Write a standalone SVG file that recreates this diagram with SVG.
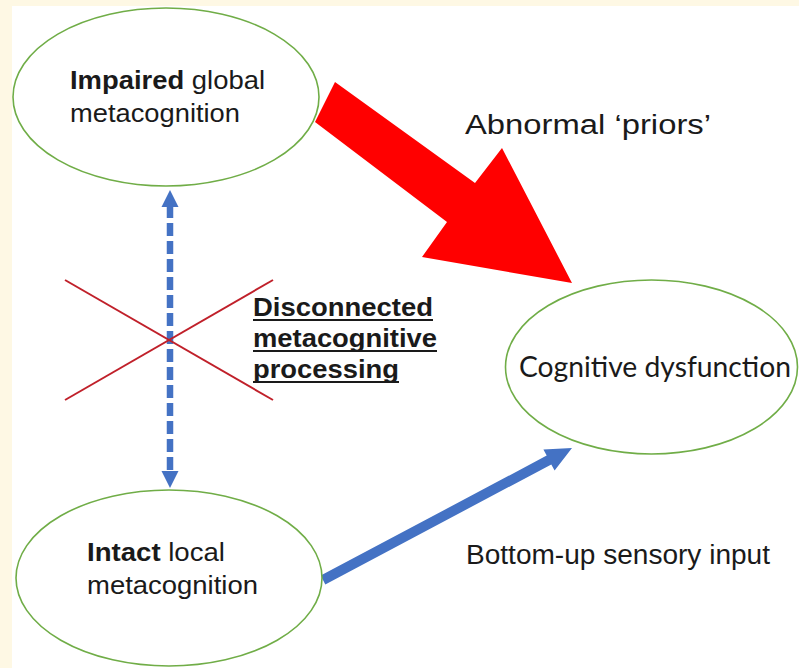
<svg xmlns="http://www.w3.org/2000/svg" width="799" height="668" viewBox="0 0 799 668">
<style>
.node{fill:#ffffff;stroke:#70ad47;stroke-width:1.6}
.t{font-family:"Liberation Sans",Arial,sans-serif;font-size:26px;fill:#1a1a1a}
.l{font-family:"Liberation Sans",Arial,sans-serif;font-size:27px;fill:#1a1a1a}
.b{font-weight:bold}
.c{font-family:Lato,"Noto Sans",sans-serif;font-size:29px;fill:#1a1a1a}
.u{font-family:"Liberation Sans",Arial,sans-serif;font-size:26px;font-weight:bold;fill:#1a1a1a}
.ul{stroke:#1a1a1a;stroke-width:2}
.x{stroke:#c0202a;stroke-width:2;fill:none}
</style>
<rect x="0" y="0" width="799" height="668" fill="#fef8e4"/>
<rect x="12" y="6" width="787" height="662" fill="#ffffff"/>
<g id="connectors">
  <polygon id="abnormal-priors" points="335,82 475,183 502,148 572,283 422,257 447,222 315,122" fill="#ff0000"/>
  <line x1="170" y1="205" x2="170" y2="473" stroke="#4472c4" stroke-width="6.5" stroke-dasharray="13 5"/>
  <polygon points="170,190 178.5,207 161.5,207" fill="#4472c4"/>
  <polygon points="170,488 178.5,471 161.5,471" fill="#4472c4"/>
  <polygon id="bottom-up" points="320.7,575.6 546.7,455.6 543.4,449.4 572,448 554.6,470.6 551.3,464.4 325.3,584.4" fill="#4472c4"/>
</g>
<g id="node-impaired">
  <ellipse class="node" cx="166" cy="97" rx="153" ry="89"/>
  <text class="t" x="70" y="89" textLength="195" lengthAdjust="spacingAndGlyphs"><tspan class="b">Impaired</tspan> global</text>
  <text class="t" x="70" y="122" textLength="170" lengthAdjust="spacingAndGlyphs">metacognition</text>
</g>
<g id="node-intact">
  <ellipse class="node" cx="169" cy="578" rx="153" ry="88"/>
  <text class="t" x="87" y="561" textLength="138" lengthAdjust="spacingAndGlyphs"><tspan class="b">Intact</tspan> local</text>
  <text class="t" x="87" y="594" textLength="171" lengthAdjust="spacingAndGlyphs">metacognition</text>
</g>
<g id="node-cognitive">
  <ellipse class="node" cx="651.5" cy="367" rx="146" ry="87"/>
  <text class="c" x="519" y="377" textLength="272" lengthAdjust="spacingAndGlyphs">Cognitive dysfunction</text>
</g>
<g id="cross">
  <line class="x" x1="65" y1="280" x2="273" y2="400"/>
  <line class="x" x1="65" y1="400" x2="273" y2="280"/>
</g>
<g id="labels">
  <text class="l" x="465" y="134" textLength="246" lengthAdjust="spacingAndGlyphs">Abnormal  ‘priors’</text>
  <text class="l" x="466" y="564" textLength="304" lengthAdjust="spacingAndGlyphs">Bottom-up  sensory  input</text>
  <text class="u" x="253" y="316" textLength="180" lengthAdjust="spacingAndGlyphs">Disconnected</text>
  <line class="ul" x1="253" y1="320" x2="433" y2="320"/>
  <text class="u" x="253" y="347" textLength="184" lengthAdjust="spacingAndGlyphs">metacognitive</text>
  <line class="ul" x1="253" y1="351" x2="437" y2="351"/>
  <text class="u" x="253" y="378" textLength="146" lengthAdjust="spacingAndGlyphs">processing</text>
  <line class="ul" x1="253" y1="382" x2="399" y2="382"/>
</g>
</svg>
